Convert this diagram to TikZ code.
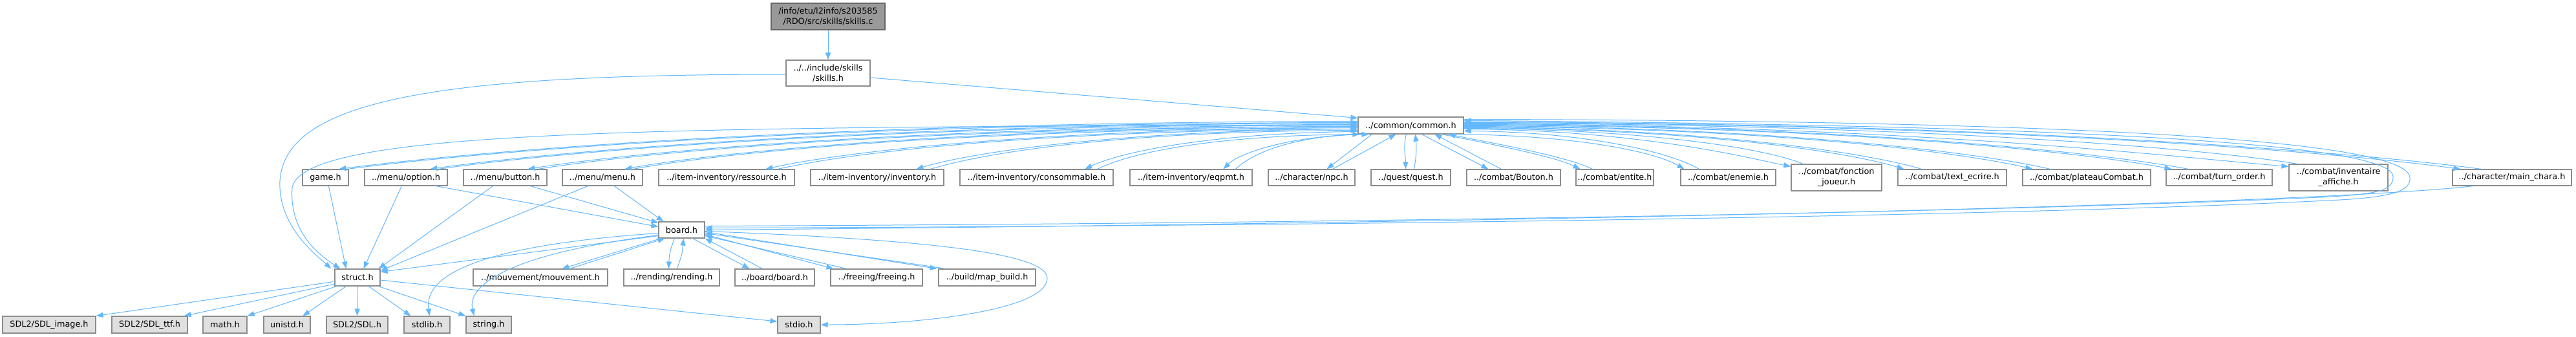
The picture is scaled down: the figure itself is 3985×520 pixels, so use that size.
\documentclass[tikz,border=0pt]{standalone}
\usepackage{fontspec}
\setmainfont{DejaVu Sans}
\usetikzlibrary{arrows.meta,calc}
\definecolor{edgeblue}{HTML}{63B8FF}
\definecolor{bordergray}{HTML}{8C8C8C}
\definecolor{rootfill}{HTML}{999999}
\definecolor{rootborder}{HTML}{666666}
\definecolor{extfill}{HTML}{E0E0E0}
\begin{document}
\begin{tikzpicture}[x=1pt,y=-1pt,
  nd/.style={draw=bordergray, fill=white, line width=1.2pt, inner sep=0pt, align=center, font=\fontsize{12.8}{16}\selectfont, text=black},
  ext/.style={nd, fill=extfill},
  rootn/.style={nd, fill=rootfill, draw=rootborder},
  dep/.style={draw=edgeblue, line width=1pt, -{Triangle[length=11pt,width=8pt]}},
]
\fill[white] (0,0) rectangle (3985,520);
\useasboundingbox (0,0) rectangle (3985,520);

% ---------- nodes ----------
\node[rootn, minimum width=176pt, minimum height=41pt] (root) at (1281,25.5) {/info/etu/l2info/s203585\\/RDO/src/skills/skills.c};
\node[nd, minimum width=130pt, minimum height=40pt] (skillsh) at (1281,113) {../../include/skills\\/skills.h};
\node[nd, minimum width=163pt, minimum height=26pt] (common) at (2182.5,194) {../common/common.h};

\node[nd, minimum width=71pt, minimum height=25pt] (game) at (503.5,274.5) {game.h};
\node[nd, minimum width=128pt, minimum height=25pt] (option) at (628,274.5) {../menu/option.h};
\node[nd, minimum width=129pt, minimum height=25pt] (button) at (781.5,274.5) {../menu/button.h};
\node[nd, minimum width=124pt, minimum height=25pt] (menu) at (932,274.5) {../menu/menu.h};
\node[nd, minimum width=210pt, minimum height=25pt] (ressource) at (1124,274.5) {../item-inventory/ressource.h};
\node[nd, minimum width=206pt, minimum height=25pt] (inventory) at (1357,274.5) {../item-inventory/inventory.h};
\node[nd, minimum width=237pt, minimum height=25pt] (consommable) at (1603.5,274.5) {../item-inventory/consommable.h};
\node[nd, minimum width=189pt, minimum height=25pt] (eqpmt) at (1842.5,274.5) {../item-inventory/eqpmt.h};
\node[nd, minimum width=134pt, minimum height=25pt] (npc) at (2029,274.5) {../character/npc.h};
\node[nd, minimum width=123pt, minimum height=25pt] (quest) at (2182.5,274.5) {../quest/quest.h};
\node[nd, minimum width=145pt, minimum height=25pt] (bouton) at (2341.5,274.5) {../combat/Bouton.h};
\node[nd, minimum width=120pt, minimum height=25pt] (entite) at (2498,274.5) {../combat/entite.h};
\node[nd, minimum width=147pt, minimum height=25pt] (enemie) at (2673.5,274.5) {../combat/enemie.h};
\node[nd, minimum width=140pt, minimum height=41pt] (fonction) at (2841,274.5) {../combat/fonction\\\_joueur.h};
\node[nd, minimum width=168pt, minimum height=25pt] (textecrire) at (3020,274.5) {../combat/text\_ecrire.h};
\node[nd, minimum width=198pt, minimum height=25pt] (plateau) at (3228,274.5) {../combat/plateauCombat.h};
\node[nd, minimum width=164pt, minimum height=25pt] (turn) at (3433,274.5) {../combat/turn\_order.h};
\node[nd, minimum width=153pt, minimum height=41pt] (invaff) at (3617.5,274.5) {../combat/inventaire\\\_affiche.h};
\node[nd, minimum width=184pt, minimum height=25pt] (mainchara) at (3886,274.5) {../character/main\_chara.h};

\node[nd, minimum width=71pt, minimum height=25pt] (board) at (1054.5,355.5) {board.h};

\node[nd, minimum width=70pt, minimum height=26pt] (struct) at (553,429) {struct.h};
\node[nd, minimum width=208pt, minimum height=26pt] (mouvement) at (836,429) {../mouvement/mouvement.h};
\node[nd, minimum width=148pt, minimum height=26pt] (rending) at (1039,429) {../rending/rending.h};
\node[nd, minimum width=123pt, minimum height=26pt] (boardboard) at (1198.5,429) {../board/board.h};
\node[nd, minimum width=142pt, minimum height=26pt] (freeing) at (1356,429) {../freeing/freeing.h};
\node[nd, minimum width=150pt, minimum height=26pt] (mapbuild) at (1527,429) {../build/map\_build.h};

\node[ext, minimum width=144pt, minimum height=26pt] (sdlimage) at (76,502) {SDL2/SDL\_image.h};
\node[ext, minimum width=117pt, minimum height=26pt] (sdlttf) at (231.5,502) {SDL2/SDL\_ttf.h};
\node[ext, minimum width=68pt, minimum height=26pt] (math) at (348,502) {math.h};
\node[ext, minimum width=72pt, minimum height=26pt] (unistd) at (444,502) {unistd.h};
\node[ext, minimum width=95pt, minimum height=26pt] (sdl) at (552.5,502) {SDL2/SDL.h};
\node[ext, minimum width=71pt, minimum height=26pt] (stdlib) at (660.5,502) {stdlib.h};
\node[ext, minimum width=70pt, minimum height=26pt] (string) at (756,502) {string.h};
\node[ext, minimum width=66pt, minimum height=26pt] (stdio) at (1236,502) {stdio.h};

% ---------- edges ----------
\draw[dep] (root.south) -- (skillsh.north);
\draw[dep] ($(skillsh.east)+(0,7)$) -- ($(common.north west)+(0,2)$);
\draw[dep] ($(skillsh.west)+(0,2)$) .. controls (700,115) and (440,150) .. (433,280) .. controls (430,350) and (490,395) .. ($(struct.north west)+(-5,0)$);
\draw[dep] ($(common.north west)+(0,13)$) .. controls (1000,196) and (470,200) .. (452,290) .. controls (447,360) and (495,395) .. ($(struct.north west)+(9,0)$);

% common <-> left row
\draw[dep] ($(common.north west)+(0,7)$) .. controls +(-867,2) and +(189,-25) .. ($(game.north west)+(57,0)$);
\draw[dep] ($(game.north west)+(70,0)$) .. controls +(189,-25) and +(-867,2) .. ($(common.north west)+(0,9)$);
\draw[dep] ($(common.north west)+(0,10)$) .. controls +(-789,2) and +(172,-25) .. ($(option.north west)+(102,0)$);
\draw[dep] ($(option.north west)+(115,0)$) .. controls +(172,-25) and +(-789,2) .. ($(common.north west)+(0,12)$);
\draw[dep] ($(common.north west)+(0,13)$) .. controls +(-706,2) and +(154,-25) .. ($(button.north west)+(100,0)$);
\draw[dep] ($(button.north west)+(116,0)$) .. controls +(154,-25) and +(-706,2) .. ($(common.north west)+(0,15)$);
\draw[dep] ($(common.north west)+(0,15)$) .. controls +(-624,2) and +(136,-25) .. ($(menu.north west)+(97,0)$);
\draw[dep] ($(menu.north west)+(110,0)$) .. controls +(136,-25) and +(-624,2) .. ($(common.north west)+(0,17)$);
\draw[dep] ($(common.north west)+(0,17)$) .. controls +(-504,2) and +(110,-25) .. ($(ressource.north west)+(166,0)$);
\draw[dep] ($(ressource.north west)+(185,0)$) .. controls +(110,-25) and +(-504,2) .. ($(common.north west)+(0,19)$);
\draw[dep] ($(common.north west)+(0,19)$) .. controls +(-376,2) and +(82,-25) .. ($(inventory.north west)+(164,0)$);
\draw[dep] ($(inventory.north west)+(186,0)$) .. controls +(82,-25) and +(-376,2) .. ($(common.north west)+(0,21)$);
\draw[dep] ($(common.north west)+(0,23)$) .. controls +(-232,2) and +(51,-25) .. ($(consommable.north west)+(194,0)$);
\draw[dep] ($(consommable.north west)+(213,0)$) .. controls +(51,-25) and +(-232,2) .. ($(common.south west)+(3,0)$);
\draw[dep] ($(common.south west)+(10,0)$) .. controls +(-114,2) and +(25,-25) .. ($(eqpmt.north west)+(145,0)$);
\draw[dep] ($(eqpmt.north west)+(164,0)$) .. controls +(25,-25) and +(-114,2) .. ($(common.south west)+(17,0)$);

% common <-> near nodes
\draw[dep] ($(common.south west)+(22,0)$) -- ($(npc.north west)+(91,0)$);
\draw[dep] ($(npc.north west)+(100,0)$) -- ($(common.south west)+(59,0)$);
\draw[dep] ($(common.south west)+(75,0)$) .. controls +(-5,20) and +(0,-20) .. ($(quest.north west)+(54,0)$);
\draw[dep] ($(quest.north west)+(67,0)$) .. controls +(4,-20) and +(2,20) .. ($(common.south west)+(89,0)$);
\draw[dep] ($(common.south west)+(99,0)$) -- ($(bouton.north west)+(34,0)$);
\draw[dep] ($(bouton.north west)+(54,0)$) -- ($(common.south west)+(119,0)$);
\draw[dep] ($(common.south east)+(-34,0)$) .. controls +(60,12) and +(-40,-20) .. ($(entite.north west)+(7,0)$);
\draw[dep] ($(entite.north west)+(26,0)$) .. controls +(-40,-20) and +(60,12) .. ($(common.south east)+(-24,0)$);

% common <-> right row
\draw[dep] ($(common.south east)+(-10,0)$) .. controls +(194,2) and +(-42,-25) .. ($(enemie.north west)+(6,0)$);
\draw[dep] ($(enemie.north west)+(29,0)$) .. controls +(-42,-25) and +(194,2) .. ($(common.north east)+(0,22)$);
\draw[dep] ($(common.north east)+(0,19)$) .. controls +(279,2) and +(-61,-12) .. ($(fonction.north west)+(0,4)$);
\draw[dep] ($(fonction.north west)+(19,0)$) .. controls +(-61,-25) and +(279,2) .. ($(common.north east)+(0,18)$);
\draw[dep] ($(common.north east)+(0,17)$) .. controls +(375,2) and +(-82,-25) .. ($(textecrire.north west)+(10,0)$);
\draw[dep] ($(textecrire.north west)+(37,0)$) .. controls +(-82,-25) and +(375,2) .. ($(common.north east)+(0,16)$);
\draw[dep] ($(common.north east)+(0,15)$) .. controls +(485,2) and +(-106,-25) .. ($(plateau.north west)+(16,0)$);
\draw[dep] ($(plateau.north west)+(43,0)$) .. controls +(-106,-25) and +(485,2) .. ($(common.north east)+(0,14)$);
\draw[dep] ($(common.north east)+(0,13)$) .. controls +(603,2) and +(-132,-25) .. ($(turn.north west)+(9,0)$);
\draw[dep] ($(turn.north west)+(35,0)$) .. controls +(-132,-25) and +(603,2) .. ($(common.north east)+(0,12)$);
\draw[dep] ($(common.north east)+(0,11)$) .. controls +(702,2) and +(-153,-12) .. ($(invaff.north west)+(0,4)$);
\draw[dep] ($(invaff.north west)+(14,0)$) .. controls +(-153,-25) and +(702,2) .. ($(common.north east)+(0,10)$);
\draw[dep] ($(common.north east)+(0,9)$) .. controls +(849,2) and +(-185,-25) .. ($(mainchara.north west)+(13,0)$);
\draw[dep] ($(mainchara.north west)+(45,0)$) .. controls +(-185,-25) and +(849,2) .. ($(common.north east)+(0,8)$);

% common <-> board loops
\draw[dep] ($(common.north east)+(0,4)$) .. controls (3000,186) and (3728,205) .. (3728,275) .. controls (3730,298) and (3690,306) .. (3600,310) .. controls (3100,335) and (2000,350) .. ($(board.east)+(0,-3)$);
\draw[dep] ($(board.east)+(0,-6)$) .. controls (2000,346) and (3050,330) .. (3590,305) .. controls (3680,300) and (3702,295) .. (3702,273) .. controls (3702,212) and (3000,192) .. ($(common.north east)+(0,6)$);
\draw[dep] ($(mainchara.south west)+(33,0)$) .. controls (3550,318) and (2300,345) .. ($(board.east)+(0,0)$);

% menu nodes
\draw[dep] ($(game.south west)+(41,0)$) -- ($(struct.north west)+(18,0)$);
\draw[dep] ($(option.south west)+(58,0)$) -- ($(struct.north west)+(45,0)$);
\draw[dep] ($(option.south east)+(-18,0)$) -- ($(board.west)+(0,-5)$);
\draw[dep] ($(button.south west)+(46,0)$) -- ($(struct.north east)+(-3,0)$);
\draw[dep] ($(button.south west)+(104,0)$) -- ($(board.north west)+(0,2)$);
\draw[dep] ($(menu.south west)+(40,0)$) -- ($(struct.north east)+(0,3)$);
\draw[dep] ($(menu.south west)+(81,0)$) -- ($(board.north west)+(8,0)$);

% board outgoing / incoming
\draw[dep] ($(board.south west)+(0,-4)$) -- ($(struct.north east)+(0,5)$);
\draw[dep] ($(board.south west)+(4,0)$) -- ($(mouvement.north west)+(138,0)$);
\draw[dep] ($(mouvement.north west)+(150,0)$) -- ($(board.south west)+(10,0)$);
\draw[dep] ($(board.south west)+(25,0)$) .. controls +(-8,22) and +(1,-22) .. ($(rending.north west)+(70,0)$);
\draw[dep] ($(rending.north west)+(83,0)$) .. controls +(8,-22) and +(-2,22) .. ($(board.south west)+(39,0)$);
\draw[dep] ($(board.south west)+(53,0)$) -- ($(boardboard.north west)+(23,0)$);
\draw[dep] ($(boardboard.north west)+(43,0)$) -- (board.south east);
\draw[dep] ($(board.east)+(0,7)$) -- ($(freeing.north west)+(5,0)$);
\draw[dep] ($(freeing.north west)+(25,0)$) -- ($(board.east)+(0,9)$);
\draw[dep] ($(board.east)+(0,3)$) -- ($(mapbuild.north west)+(-2,0)$);
\draw[dep] ($(mapbuild.north west)+(12,0)$) -- ($(board.east)+(0,5)$);
\draw[dep] ($(board.east)+(0,2)$) .. controls (1420,370) and (1620,390) .. (1620,430) .. controls (1620,480) and (1420,502) .. (stdio.east);
\draw[dep] ($(board.west)+(0,5)$) .. controls (760,378) and (655,420) .. ($(stdlib.north west)+(40,0)$);
\draw[dep] ($(board.west)+(0,8)$) .. controls (790,392) and (722,440) .. ($(string.north west)+(13,0)$);

% struct outgoing
\draw[dep] ($(struct.south west)+(-2,-7)$) -- (sdlimage.north east);
\draw[dep] ($(struct.south west)+(2,-4)$) -- ($(sdlttf.north east)+(-6,0)$);
\draw[dep] ($(struct.south west)+(9,-2)$) -- (math.north east);
\draw[dep] ($(struct.south west)+(18,0)$) -- ($(unistd.north west)+(61,0)$);
\draw[dep] (struct.south) -- (sdl.north);
\draw[dep] ($(struct.south west)+(53,0)$) -- ($(stdlib.north west)+(11,0)$);
\draw[dep] ($(struct.south east)+(-3,0)$) -- (string.north west);
\draw[dep] ($(struct.east)+(0,4)$) -- ($(stdio.west)+(0,-5)$);
\end{tikzpicture}
\end{document}
